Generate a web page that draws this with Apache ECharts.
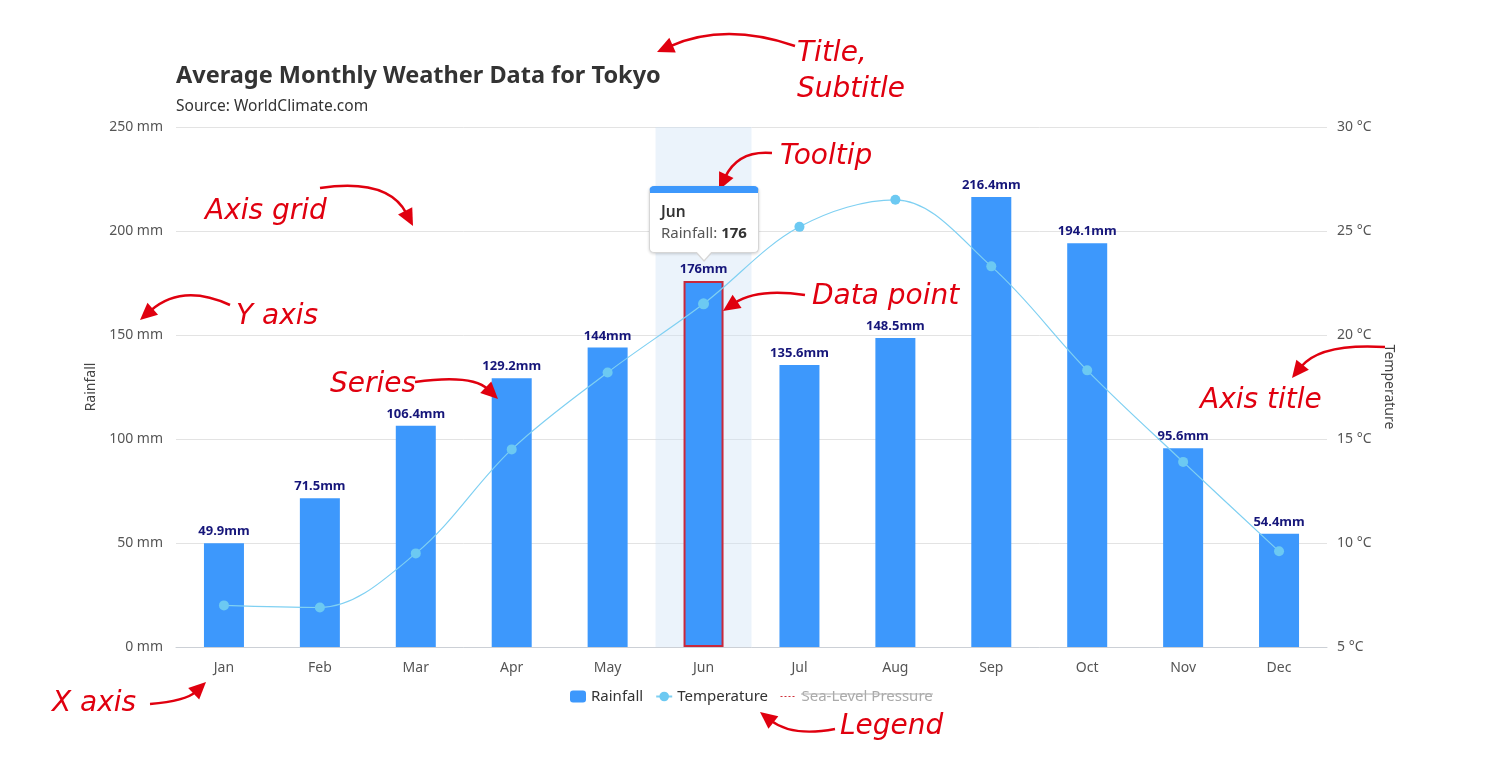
<!DOCTYPE html>
<html>
<head>
<meta charset="utf-8">
<script src="https://cdn.jsdelivr.net/npm/echarts@6/dist/echarts.min.js"></script>
<style>
html,body{margin:0;padding:0;background:#fff;}
#main{width:1486px;height:759px;}
</style>
</head>
<body>
<div id="main"></div>
<script>
var months = ['Jan','Feb','Mar','Apr','May','Jun','Jul','Aug','Sep','Oct','Nov','Dec'];
var rainfall = [49.9, 71.5, 106.4, 129.2, 144.0, 176.0, 135.6, 148.5, 216.4, 194.1, 95.6, 54.4];
var temperature = [7.0, 6.9, 9.5, 14.5, 18.2, 21.5, 25.2, 26.5, 23.3, 18.3, 13.9, 9.6];
var pressure = [1016, 1016, 1015.9, 1015.5, 1012.3, 1009.5, 1009.6, 1010.2, 1013.1, 1016.9, 1018.2, 1016.7];
var rainTicks = [0, 50, 100, 150, 200, 250];
var tempTicks = [5, 10, 15, 20, 25, 30];
var tipIndex = 5;

var FONT = "'Noto Sans', 'Open Sans', sans-serif";
var HAND = "italic 28px 'DejaVu Sans', sans-serif";
var RED = '#e0000f';

var chart = echarts.init(document.getElementById('main'), null, {renderer: 'canvas'});

var barData = rainfall.map(function (v, i) {
  if (i === tipIndex) {
    return {value: v, itemStyle: {borderColor: '#c8283c', borderWidth: 2}};
  }
  return v;
});

var annotations = [
  {lines: ['Title,', 'Subtitle'], x: 797, y: 40, a: [795, 46, 725, 22, 657, 52]},
  {lines: ['Tooltip'], x: 780, y: 143, a: [772, 153, 738, 150, 719, 190]},
  {lines: ['Axis grid'], x: 205, y: 198, a: [320, 188, 388, 178, 413, 226]},
  {lines: ['Y axis'], x: 236, y: 303, a: [230, 305, 182, 283, 140, 320]},
  {lines: ['Series'], x: 330, y: 371, a: [415, 382, 472, 374, 498, 399]},
  {lines: ['Data point'], x: 812, y: 283, a: [805, 295, 757, 288, 723, 311]},
  {lines: ['Axis title'], x: 1200, y: 387, a: [1385, 347, 1320, 343, 1292, 378]},
  {lines: ['X axis'], x: 52, y: 690, a: [150, 704, 186, 701, 206, 682]},
  {lines: ['Legend'], x: 840, y: 713, a: [835, 729, 792, 737, 760, 712]}
];

function buildGraphics() {
  var g = [];
  annotations.forEach(function (an) {
    an.lines.forEach(function (t, k) {
      g.push({type: 'text', silent: true, z: 100,
        style: {text: t, x: an.x, y: an.y + k * 36, font: HAND, fill: RED, textVerticalAlign: 'top'}});
    });
    var a = an.a;
    var sx = a[0], sy = a[1], cx = a[2], cy = a[3], ex = a[4], ey = a[5];
    var dx = ex - cx, dy = ey - cy;
    var len = Math.sqrt(dx * dx + dy * dy);
    var ux = dx / len, uy = dy / len;
    var L = 17, W = 8;
    var bx = ex - ux * L, by = ey - uy * L;
    g.push({type: 'bezierCurve', silent: true, z: 100,
      shape: {x1: sx, y1: sy, cpx1: cx, cpy1: cy, x2: bx + ux * 3, y2: by + uy * 3},
      style: {stroke: RED, lineWidth: 2.5, fill: null}});
    g.push({type: 'polygon', silent: true, z: 100,
      shape: {points: [[ex, ey], [bx - uy * W, by + ux * W], [bx + uy * W, by - ux * W]]},
      style: {fill: RED}});
  });
  g.push({type: 'line', silent: true, z: 100,
    shape: {x1: 801, y1: 694, x2: 933, y2: 694},
    style: {stroke: '#b0b0b0', lineWidth: 1}});
  return g;
}

var option = {
  animation: false,
  backgroundColor: '#fff',
  textStyle: {fontFamily: FONT},
  title: {
    text: 'Average Monthly Weather Data for Tokyo',
    subtext: 'Source: WorldClimate.com',
    left: 171, top: 59,
    itemGap: 11,
    textStyle: {fontFamily: FONT, fontSize: 23.5, fontWeight: 'bold', color: '#333'},
    subtextStyle: {fontFamily: FONT, fontSize: 15.5, color: '#333'}
  },
  grid: {left: 176, right: 159, top: 127, bottom: 112, containLabel: false},
  legend: {
    top: 684, left: 565,
    itemWidth: 16, itemHeight: 12, itemGap: 12,
    textStyle: {fontFamily: FONT, fontSize: 15, color: '#333'},
    inactiveColor: '#aaa',
    selected: {'Sea-Level Pressure': false},
    data: [
      {name: 'Rainfall', icon: 'roundRect'},
      {name: 'Temperature'},
      {name: 'Sea-Level Pressure', itemStyle: {opacity: 0},
        lineStyle: {inactiveColor: '#d0303a', inactiveWidth: 1, type: [2, 2]}}
    ]
  },
  tooltip: {
    trigger: 'axis',
    triggerOn: 'none',
    alwaysShowContent: true,
    transitionDuration: 0,
    backgroundColor: 'transparent',
    borderWidth: 0,
    padding: 0,
    extraCssText: 'box-shadow:none;',
    axisPointer: {type: 'shadow', z: 0, shadowStyle: {color: 'rgba(205,225,245,0.4)'}},
    position: function (point, params) {
      var idx = params[0].dataIndex;
      var p = chart.convertToPixel({xAxisIndex: 0, yAxisIndex: 0}, [idx, rainfall[idx]]);
      return [p[0] - 55, p[1] - 95];
    },
    formatter: function (params) {
      var p = params[0];
      return '<div style="position:relative;width:110px;height:67px;box-sizing:border-box;background:#fff;' +
        'border:1px solid #d6d6d6;border-top:7px solid #3d98fc;border-radius:5px;' +
        'box-shadow:0 1px 3px rgba(0,0,0,0.18);padding:8px 11px 0 11px;font-family:' + FONT + ';">' +
        '<div style="font-size:15.5px;font-weight:600;color:#333;line-height:21px;">' + p.name + '</div>' +
        '<div style="font-size:15px;color:#555;line-height:21px;">' + p.seriesName + ': <b style="color:#333">' + p.value + '</b></div>' +
        '<div style="position:absolute;left:45px;bottom:-10px;width:0;height:0;border-left:9px solid transparent;' +
        'border-right:9px solid transparent;border-top:10px solid #d6d6d6;"></div>' +
        '<div style="position:absolute;left:46px;bottom:-8px;width:0;height:0;border-left:8px solid transparent;' +
        'border-right:8px solid transparent;border-top:9px solid #fff;"></div>' +
        '</div>';
    }
  },
  xAxis: {
    type: 'category',
    data: months,
    axisLine: {lineStyle: {color: '#ccd0d6'}},
    axisTick: {show: false},
    axisLabel: {color: '#555', fontSize: 14, margin: 14, fontFamily: FONT},
    axisPointer: {type: 'shadow', z: 0}
  },
  yAxis: [
    {
      type: 'value', min: 0, max: 250, interval: 50,
      name: 'Rainfall', nameLocation: 'middle', nameRotate: 90, nameGap: 76,
      nameTextStyle: {color: '#444', fontSize: 14, fontFamily: FONT},
      axisLine: {show: false}, axisTick: {show: false},
      axisLabel: {color: '#555', fontSize: 14, margin: 13, fontFamily: FONT,
        formatter: function (v) { return rainTicks.indexOf(v) >= 0 ? v + ' mm' : ''; }},
      splitLine: {lineStyle: {color: '#e3e3e3'}}
    },
    {
      type: 'value', min: 5, max: 30, interval: 5, position: 'right',
      name: 'Temperature', nameLocation: 'middle', nameRotate: -90, nameGap: 54,
      nameTextStyle: {color: '#444', fontSize: 14, fontFamily: FONT},
      axisLine: {show: false}, axisTick: {show: false},
      axisLabel: {color: '#555', fontSize: 14, margin: 10, fontFamily: FONT,
        formatter: function (v) { return tempTicks.indexOf(v) >= 0 ? v + ' °C' : ''; }},
      splitLine: {show: false}
    },
    {
      type: 'value', show: false, min: 1000, max: 1020
    }
  ],
  series: [
    {
      name: 'Rainfall', type: 'bar', yAxisIndex: 0,
      barWidth: 40,
      itemStyle: {color: '#3d98fc'},
      emphasis: {disabled: true},
      label: {show: true, position: 'top', distance: 5, color: '#16167a', fontWeight: 'bold', fontSize: 13,
        fontFamily: FONT, formatter: '{c}mm'},
      data: barData, z: 2
    },
    {
      name: 'Temperature', type: 'line', yAxisIndex: 1,
      smooth: 0.35,
      symbol: 'circle', symbolSize: 10,
      lineStyle: {color: '#7fd0f2', width: 1.2},
      itemStyle: {color: '#6cc9f2'},
      emphasis: {disabled: true},
      data: temperature, z: 3
    },
    {
      name: 'Sea-Level Pressure', type: 'line', yAxisIndex: 2,
      smooth: true, showSymbol: false,
      lineStyle: {color: '#d0303a', type: 'dotted', width: 1},
      itemStyle: {color: '#d0303a'},
      data: pressure
    }
  ],
  graphic: buildGraphics()
};

chart.setOption(option);
chart.dispatchAction({type: 'showTip', seriesIndex: 0, dataIndex: tipIndex});
</script>
</body>
</html>
